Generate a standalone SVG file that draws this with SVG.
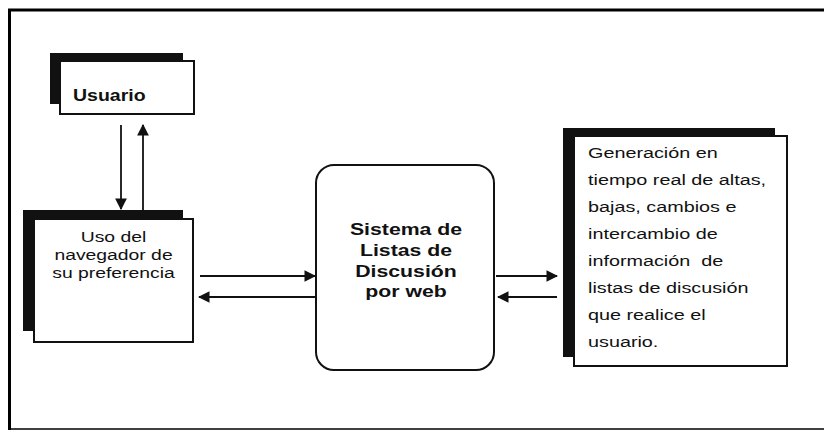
<svg xmlns="http://www.w3.org/2000/svg" width="824" height="431" viewBox="0 0 824 431">
<defs>
<style>
.frame{stroke:#000;fill:none}
.shadow{fill:#111;stroke:none}
.box{fill:#fff;stroke:#111;stroke-width:2}
.t{font-family:"Liberation Sans",Arial,sans-serif;font-size:15px;fill:#111}
.b{font-family:"Liberation Sans",Arial,sans-serif;font-weight:bold;fill:#111}
.c{stroke:#111;stroke-width:1.8;fill:none;marker-end:url(#ah)}
</style>
<marker id="ah" viewBox="0 0 10 10" refX="9" refY="5" markerWidth="6.5" markerHeight="6.5" markerUnits="strokeWidth" orient="auto">
<path d="M0,0 L10,5 L0,10 z" fill="#111"/>
</marker>
</defs>
<rect width="824" height="431" fill="#fff"/>
<g id="frame">
<line class="frame" x1="8" y1="10" x2="824" y2="10" stroke-width="3"/>
<line class="frame" x1="9.5" y1="9" x2="9.5" y2="430" stroke-width="3"/>
<line class="frame" x1="8" y1="429" x2="824" y2="429" stroke-width="1.5" stroke="#555"/>
</g>
<g id="usuario">
<rect class="shadow" x="50" y="53" width="133" height="51"/>
<rect class="box" x="60" y="61" width="134" height="53"/>
<text class="b" font-size="16" transform="matrix(1.22,0,0,1,73,0)" x="0" y="101">Usuario</text>
</g>
<g id="navegador">
<rect class="shadow" x="23" y="210" width="160" height="121"/>
<rect class="box" x="34" y="219" width="159" height="123"/>
<g class="t" text-anchor="middle" transform="matrix(1.29,0,0,1,113.5,0)">
<text x="0" y="242">Uso del</text>
<text x="0" y="260">navegador de</text>
<text x="0" y="278">su preferencia</text>
</g>
</g>
<g id="sistema">
<rect class="box" x="316" y="165" width="178" height="205" rx="18" ry="18"/>
<g class="b" font-size="17" text-anchor="middle" transform="matrix(1.25,0,0,1,406,0)">
<text x="0" y="235">Sistema de</text>
<text x="0" y="256">Listas de</text>
<text x="0" y="277">Discusión</text>
<text x="0" y="297">por web</text>
</g>
</g>
<g id="generacion">
<rect class="shadow" x="563" y="128" width="212" height="229"/>
<rect class="box" x="574" y="136" width="213" height="230"/>
<g class="t" transform="matrix(1.32,0,0,1,588,0)">
<text x="0" y="158">Generación en</text>
<text x="0" y="185">tiempo real de altas,</text>
<text x="0" y="212">bajas, cambios e</text>
<text x="0" y="239">intercambio de</text>
<text x="0" y="266" xml:space="preserve">información  de</text>
<text x="0" y="293">listas de discusión</text>
<text x="0" y="320">que realice el</text>
<text x="0" y="347">usuario.</text>
</g>
</g>
<g id="connectors">
<line class="c" x1="121" y1="125" x2="121" y2="209"/>
<line class="c" x1="143" y1="210" x2="143" y2="125"/>
<line class="c" x1="200" y1="276" x2="315" y2="276"/>
<line class="c" x1="315" y1="297" x2="199" y2="297"/>
<line class="c" x1="496" y1="276" x2="557" y2="276"/>
<line class="c" x1="557" y1="297" x2="498" y2="297"/>
</g>
</svg>
